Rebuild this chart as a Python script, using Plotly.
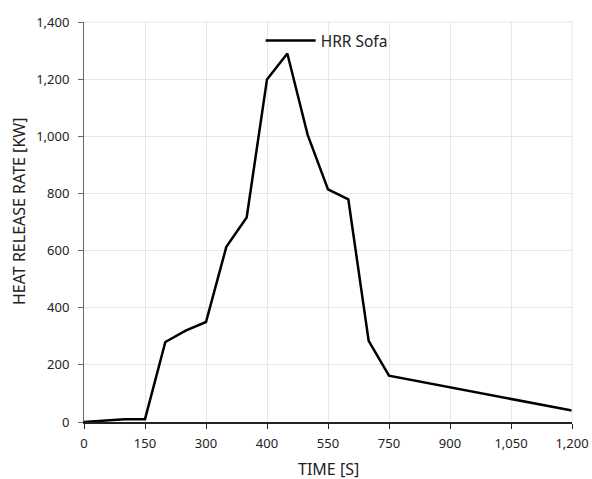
import plotly.graph_objects as go

time_s = [0, 100, 150, 200, 250, 300, 350, 400, 450, 500, 550, 600, 650, 700, 750, 1200]
hrr_kw = [0, 10, 10, 280, 320, 350, 613, 716, 1199, 1290, 1005, 814, 779, 284, 162, 40]

x_tickvals = [0, 150, 300, 450, 600, 750, 900, 1050, 1200]
x_ticktext = ["0", "150", "300", "400", "550", "750", "900", "1,050", "1,200"]
y_tickvals = [0, 200, 400, 600, 800, 1000, 1200, 1400]
y_ticktext = ["0", "200", "400", "600", "800", "1,000", "1,200", "1,400"]

fig = go.Figure()
fig.add_trace(go.Scatter(x=time_s, y=hrr_kw, mode="lines", name="HRR Sofa",
                         line=dict(color="black", width=2.5)))

font = "Noto Sans, sans-serif"
fig.update_layout(
    width=592, height=479,
    margin=dict(l=84, r=20, t=22, b=57),
    paper_bgcolor="white", plot_bgcolor="white",
    font=dict(family=font, size=13, color="#222"),
    showlegend=True,
    legend=dict(x=0.362, y=0.995, xanchor="left", yanchor="top",
                bgcolor="rgba(0,0,0,0)", font=dict(size=15.5, color="#222"),
                itemwidth=50),
    xaxis=dict(range=[0, 1200], tickvals=x_tickvals, ticktext=x_ticktext,
               showgrid=True, gridcolor="#e6e6e6", gridwidth=1,
               showline=True, linecolor="#222", linewidth=1.5,
               ticks="outside", ticklen=5, tickcolor="#222",
               zeroline=False, automargin=False, ticklabelstandoff=4),
    yaxis=dict(range=[0, 1400], tickvals=y_tickvals, ticktext=y_ticktext,
               showgrid=True, gridcolor="#e6e6e6", gridwidth=1,
               showline=True, linecolor="#666", linewidth=1,
               ticks="outside", ticklen=5, tickcolor="#666",
               zeroline=False, automargin=False, ticklabelstandoff=6),
)
fig.add_annotation(text="TIME [S]", xref="paper", yref="paper",
                   x=0.5, y=-(469 - 422) / 400, xanchor="center", yanchor="middle",
                   showarrow=False, font=dict(size=16, color="#222"))
fig.add_annotation(text="HEAT RELEASE RATE [KW]", xref="paper", yref="paper",
                   x=-(84 - 19) / 488, y=(422 - 212) / 400, xanchor="center", yanchor="middle",
                   textangle=-90, showarrow=False, font=dict(size=16, color="#222"))
fig.add_shape(type="line", xref="paper", yref="paper", x0=0, x1=1, y0=1, y1=1,
              line=dict(color="#e6e6e6", width=1))
fig.add_shape(type="line", xref="paper", yref="paper", x0=1, x1=1, y0=0, y1=1,
              line=dict(color="#e6e6e6", width=1))

fig.write_html("out.html", config={"displayModeBar": False},
               post_script="document.body.style.margin='0';document.body.style.overflow='hidden';")
